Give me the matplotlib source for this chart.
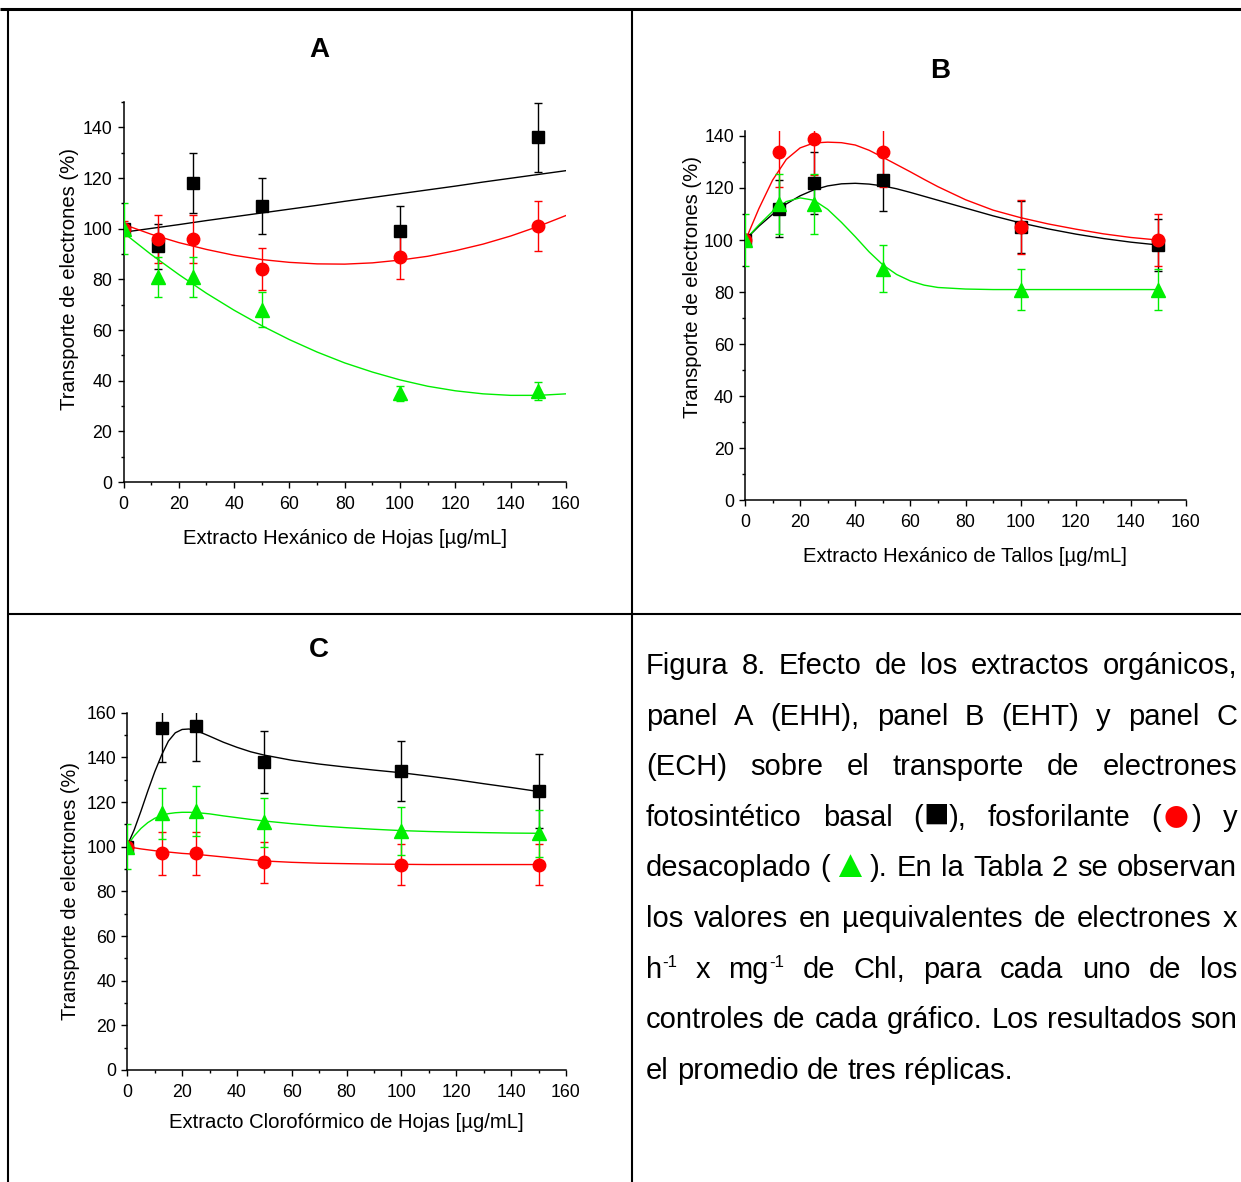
import numpy as np
import matplotlib
matplotlib.use("Agg")
import matplotlib.pyplot as plt
from matplotlib.ticker import MultipleLocator
from matplotlib.lines import Line2D

plt.rcParams['font.family'] = ['Liberation Sans', 'DejaVu Sans']

BLACK, RED, GREEN = '#000000', '#ff0000', '#00ee00'

# concentrations tested (µg/mL)
conc = [0, 12.5, 25, 50, 100, 150]

# Panel A: extracto hexánico de hojas
a_basal = [100, 93, 118, 109, 99, 136]
a_basal_err = [2, 9, 12, 11, 10, 13.5]
a_fosf = [100, 96, 96, 84, 89, 101]
a_fosf_err = [3, 9.5, 9.5, 8.4, 8.8, 10]
a_desac = [100, 81, 81, 68, 35, 36]
a_desac_err = [10, 8, 8, 7, 3, 3.5]

# fitted trend lines, panel A
a_fit_x = [0, 10, 20, 30, 40, 50, 60, 70, 80, 90, 100, 110, 120, 130, 140, 150, 160]
a_fit_basal = [98.6, 100.1, 101.6, 103.2, 104.7, 106.2, 107.7, 109.2, 110.8,
               112.3, 113.8, 115.3, 116.8, 118.4, 119.9, 121.4, 122.9]
a_fit_fosf = [101.7, 97.8, 94.5, 91.8, 89.5, 87.8, 86.7, 86.1, 86.0,
              86.5, 87.6, 89.1, 91.3, 93.9, 97.1, 100.9, 105.2]
a_fit_desac = [98.4, 89.8, 81.9, 74.5, 67.8, 61.7, 56.2, 51.3, 47.0,
               43.4, 40.3, 37.8, 36.0, 34.8, 34.2, 34.2, 34.8]

# Panel B: extracto hexánico de tallos
b_basal = [100, 112, 122, 123, 105, 98]
b_basal_err = [1, 11, 12, 12, 10, 10]
b_fosf = [100, 134, 139, 134, 105, 100]
b_fosf_err = [2, 13.5, 14, 13.5, 10.5, 10]
b_desac = [100, 114, 114, 89, 81, 81]
b_desac_err = [10, 11.5, 11.5, 9, 8, 8]

b_fit_x = [0, 5, 10, 15, 20, 25, 30, 35, 40, 45, 50, 55, 60, 65, 70,
           80, 90, 100, 110, 120, 130, 140, 150]
b_fit_basal = [100.0, 105.3, 109.9, 113.9, 117.0, 119.3, 120.8, 121.6, 121.8,
               121.5, 120.8, 119.7, 118.3, 116.8, 115.3, 112.3, 109.3, 106.6,
               104.3, 102.3, 100.6, 99.2, 98.1]
b_fit_fosf = [99.5, 112.0, 123.0, 131.0, 135.4, 137.3, 137.6, 137.4, 136.5,
              134.5, 131.8, 129.0, 126.2, 123.3, 120.5, 115.5, 111.5, 108.6,
              106.2, 104.2, 102.4, 101.0, 100.0]
b_fit_desac = [100.0, 105.8, 111.0, 114.8, 116.2, 115.3, 111.8, 106.8, 101.3,
               95.5, 90.5, 86.8, 84.3, 82.7, 81.8, 81.2, 81.0, 81.0,
               81.0, 81.0, 81.0, 81.0, 81.0]

# Panel C: extracto clorofórmico de hojas
c_basal = [100, 153, 154, 138, 134, 125]
c_basal_err = [2, 15, 15.5, 13.8, 13.5, 16.5]
c_fosf = [100, 97, 97, 93, 92, 92]
c_fosf_err = [2, 9.7, 9.7, 9.3, 9.2, 9.2]
c_desac = [100, 115, 116, 111, 107, 106]
c_desac_err = [10, 11.5, 11, 11, 10.7, 10.6]

c_fit_x = [0, 2.5, 5, 7.5, 10, 12.5, 15, 17.5, 20, 22.5, 25, 27.5, 30, 35, 40,
           45, 50, 60, 70, 80, 90, 100, 110, 120, 130, 140, 150]
c_fit_basal = [100.5, 107.5, 116.0, 125.0, 133.5, 141.0, 147.3, 151.0, 152.5,
               152.7, 152.0, 150.8, 149.5, 146.8, 144.5, 142.5, 141.0, 138.7,
               137.0, 135.6, 134.3, 133.1, 131.6, 130.0, 128.2, 126.5, 124.7]
c_fit_fosf = [100.0, 99.5, 99.0, 98.6, 98.2, 97.8, 97.6, 97.3, 97.0, 96.8,
              96.6, 96.3, 96.0, 95.4, 94.8, 94.2, 93.6, 93.0, 92.6, 92.4,
              92.2, 92.1, 92.0, 92.0, 92.0, 92.0, 92.0]
c_fit_desac = [100.5, 104.8, 108.2, 110.8, 112.7, 114.0, 114.8, 115.2, 115.4,
               115.4, 115.3, 115.0, 114.7, 113.8, 113.0, 112.2, 111.5, 110.3,
               109.3, 108.5, 107.8, 107.2, 106.8, 106.5, 106.3, 106.1, 106.0]

caption = [
    "Figura 8. Efecto de los extractos orgánicos,",
    "panel A (EHH), panel B (EHT) y panel C",
    "(ECH) sobre el transporte de electrones",
    "fotosintético basal (■), fosforilante (●) y",
    "desacoplado (▲). En la Tabla 2 se observan",
    "los valores en µequivalentes de electrones x",
    "h^-1 x mg^-1 de Chl, para cada uno de los",
    "controles de cada gráfico. Los resultados son",
    "el promedio de tres réplicas.",
]
# legend glyphs inside the caption: colour, size factor, baseline drop (px)
symbol_style = {'■': (BLACK, 1.45, 1), '●': (RED, 1.75, 4), '▲': (GREEN, 1.35, 1)}

W, H = 1241, 1182
fig = plt.figure(figsize=(W / 100, H / 100), dpi=100)


def fx(x):
    return x / W


def fy(y):
    return 1 - y / H


def add_axes_px(left, top, right, bottom):
    return fig.add_axes([fx(left), fy(bottom), (right - left) / W, (bottom - top) / H])


def draw_panel(ax, ymax, ytop, series, fit_x, fits):
    for (y, err, mk, ms, col), fit in zip(series, fits):
        ax.plot(fit_x, fit, color=col, lw=1.0, zorder=2)
        ax.errorbar(conc, y, yerr=err, fmt=mk, ms=ms, color=col, ecolor=col,
                    mec=col, mfc=col, elinewidth=1.0, capsize=3.2, capthick=1.0,
                    zorder=3)
    ax.set_xlim(0, 160)
    ax.set_ylim(0, ymax)
    ax.set_xticks(np.arange(0, 161, 20))
    ax.set_yticks(np.arange(0, ytop + 1, 20))
    ax.xaxis.set_minor_locator(MultipleLocator(10))
    ax.yaxis.set_minor_locator(MultipleLocator(10))
    for s in ('top', 'right'):
        ax.spines[s].set_visible(False)
    for s in ('left', 'bottom'):
        ax.spines[s].set_linewidth(1.1)
    ax.tick_params(which='major', direction='out', length=4.5, width=1.0,
                   labelsize=12.8, pad=3.5)
    ax.tick_params(axis='x', which='major', pad=5.5)
    ax.tick_params(which='minor', direction='out', length=2.2, width=1.0)
    ax.patch.set_alpha(0)


ylab = "Transporte de electrones (%)"

# Panel A
axA = add_axes_px(123.5, 102, 566, 482)
draw_panel(axA, 150, 140,
           [(a_basal, a_basal_err, 's', 8.5, BLACK),
            (a_fosf, a_fosf_err, 'o', 9.0, RED),
            (a_desac, a_desac_err, '^', 9.5, GREEN)],
           a_fit_x, [a_fit_basal, a_fit_fosf, a_fit_desac])
fig.text(fx(319), fy(50), "A", ha='center', va='center', fontsize=20, fontweight='bold')
fig.text(fx(70), fy(279), ylab, rotation=90, ha='center', va='center', fontsize=14.6)
fig.text(fx(345), fy(539), "Extracto Hexánico de Hojas [µg/mL]", ha='center',
         va='center', fontsize=14.6)

# Panel B
axB = add_axes_px(745, 130.7, 1186, 500.5)
draw_panel(axB, 142, 140,
           [(b_basal, b_basal_err, 's', 8.5, BLACK),
            (b_fosf, b_fosf_err, 'o', 9.0, RED),
            (b_desac, b_desac_err, '^', 9.5, GREEN)],
           b_fit_x, [b_fit_basal, b_fit_fosf, b_fit_desac])
fig.text(fx(940), fy(71), "B", ha='center', va='center', fontsize=20, fontweight='bold')
fig.text(fx(692), fy(287), ylab, rotation=90, ha='center', va='center', fontsize=14.6)
fig.text(fx(965), fy(556), "Extracto Hexánico de Tallos [µg/mL]", ha='center',
         va='center', fontsize=14.6)

# Panel C
axC = add_axes_px(127.3, 712.7, 566, 1070)
draw_panel(axC, 160, 160,
           [(c_basal, c_basal_err, 's', 8.5, BLACK),
            (c_fosf, c_fosf_err, 'o', 9.0, RED),
            (c_desac, c_desac_err, '^', 9.5, GREEN)],
           c_fit_x, [c_fit_basal, c_fit_fosf, c_fit_desac])
fig.text(fx(319), fy(650), "C", ha='center', va='center', fontsize=20, fontweight='bold')
fig.text(fx(70), fy(891), ylab, rotation=90, ha='center', va='center', fontsize=14.3)
fig.text(fx(346), fy(1123), "Extracto Clorofórmico de Hojas [µg/mL]", ha='center',
         va='center', fontsize=14.6)

# table rules around the panels
rules = [((0, 1241), (9, 9), 2.2),
         ((8, 8), (9, 1182), 1.5),
         ((632, 632), (9, 1182), 1.5),
         ((8, 1241), (614, 614), 1.5)]
for xs, ys, lw in rules:
    fig.add_artist(Line2D([fx(v) for v in xs], [fy(v) for v in ys], color='black',
                          lw=lw, solid_capstyle='butt'))


# justified caption paragraph
def split_word(word):
    """Break a word into (text, colour, size factor, rise px) pieces."""
    segs, cur, sup = [], '', False
    for ch in word:
        if ch == '^':
            if cur:
                segs.append((cur, BLACK, 1, 0))
            cur, sup = '', True
        elif ch in symbol_style:
            if cur:
                segs.append((cur, BLACK, 1, 0))
            col, scale, drop = symbol_style[ch]
            segs.append((ch, col, scale, -drop))
            cur = ''
        else:
            cur += ch
    if cur:
        segs.append((cur, BLACK, 0.58, 11) if sup else (cur, BLACK, 1, 0))
    return segs


fs = 21
x_left, x_right = 646, 1237
base0, line_gap = 674, 50.6
renderer = fig.canvas.get_renderer()
probe = fig.text(0, 0, "a a", fontsize=fs)
probe1 = fig.text(0, 0, "a", fontsize=fs)
space = probe.get_window_extent(renderer).width - 2 * probe1.get_window_extent(renderer).width
probe.remove()
probe1.remove()

for i, line in enumerate(caption):
    base = base0 + i * line_gap
    words = []
    for w in line.split():
        items = []
        for txt, col, scale, rise in split_word(w):
            t = fig.text(0, fy(base - rise), txt, color=col, fontsize=fs * scale,
                         va='baseline', ha='left')
            items.append((t, t.get_window_extent(renderer).width))
        words.append(items)
    widths = [sum(wd for _, wd in items) for items in words]
    if i < len(caption) - 1:
        gap = (x_right - x_left - sum(widths)) / (len(words) - 1)
    else:
        gap = space
    x = x_left
    for items, wd in zip(words, widths):
        xx = x
        for t, tw in items:
            t.set_x(fx(xx))
            xx += tw
        x += wd + gap

fig.savefig("out.png", dpi=100)
